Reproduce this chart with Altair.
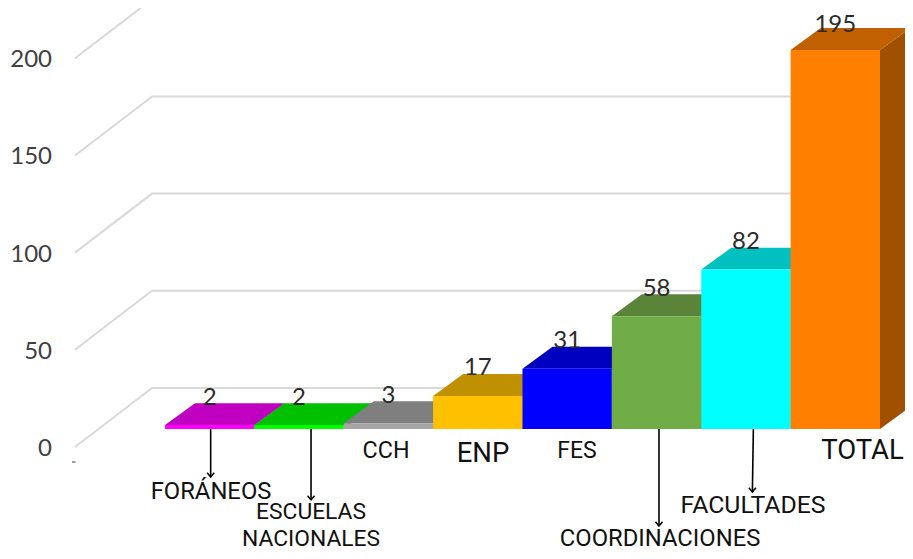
import altair as alt
import pandas as pd

categories = ["FORÁNEOS", "ESCUELAS NACIONALES", "CCH", "ENP", "FES", "COORDINACIONES", "FACULTADES", "TOTAL"]
values = [2, 2, 3, 17, 31, 58, 82, 195]
value_label_y = [16.2, 16.2, 17.2, 31.2, 45.2, 72.2, 96.2, 208.0]
front_colors = ["#ff00ff", "#00ff00", "#a6a6a6", "#ffc000", "#0000ff", "#70ad47", "#00ffff", "#ff8000"]
top_colors = ["#c000c0", "#00c000", "#7f7f7f", "#bf9000", "#0000c0", "#5a8438", "#00c0c0", "#c06000"]
side_colors = ["#a000a0", "#00a000", "#6a6a6a", "#a07800", "#0000a0", "#4b6e2f", "#00a0a0", "#a05000"]

y_ticks = [0, 50, 100, 150, 200]

label_texts = ["FORÁNEOS", "ESCUELAS", "NACIONALES", "CCH", "ENP", "FES", "COORDINACIONES", "FACULTADES", "TOTAL"]
label_x = [0.515, 1.634, 1.634, 2.473, 3.558, 4.610, 5.539, 6.579, 7.804]
label_y = [-32.5, -42.7, -56.5, -11.4, -12.9, -11.4, -56.5, -39.7, -11.4]
label_size = [23.8, 22.8, 22.8, 23.3, 27.5, 23, 23.8, 24.8, 27.5]

arrow_x = [0.511, 1.634, 5.527, 6.583]
arrow_x_end = [0.511, 1.634, 5.527, 6.572]
arrow_y_end = [-24.7, -36.5, -49.9, -32.4]

# 3-D projection, in axis units
DX, DY = 0.336, 11.3          # depth offset of a bar
WALL_L, WALL_B = -1.007, -0.145  # front and back corner of the side wall
FLOOR_F, FLOOR_B = -9.26, 21.1   # height of the wall corners relative to a tick
X_DOM = [-1.7566, 8.2797]
Y_DOM = [-62.77, 216.6]

x = alt.X("x:Q", scale=alt.Scale(domain=X_DOM, nice=False, zero=False), axis=None)
x2 = alt.X2("x2:Q")
y = alt.Y("y:Q", scale=alt.Scale(domain=Y_DOM, nice=False, zero=False), axis=None, stack=None)
y2 = alt.Y2("y2:Q")
colr = alt.Color("color:N", scale=None)

side_rows, top_rows, front_rows = [], [], []
for i, v in enumerate(values):
    a, b = i, i + 1
    for xx, hi, lo in [(b, v, 0), (b + DX, v + DY, DY)]:
        side_rows.append(dict(x=xx, y=hi, y2=lo, color=side_colors[i]))
    for xx, hi, lo in [(a, v, v), (a + DX, v + DY, v), (b, v + DY, v), (b + DX, v + DY, v + DY)]:
        top_rows.append(dict(x=xx, y=hi, y2=lo, color=top_colors[i]))
    front_rows.append(dict(x=a, x2=b, y=v, y2=0, color=front_colors[i]))

grid_rows = []
for t in y_ticks:
    for o, (xx, yy) in enumerate([(WALL_L, t + FLOOR_F), (WALL_B, t + FLOOR_B), (X_DOM[1], t + FLOOR_B)]):
        grid_rows.append(dict(x=xx, y=yy, tick=t, o=o))

grid = alt.Chart(pd.DataFrame(grid_rows)).mark_line(color="#d9d9d9", strokeWidth=2, clip=True).encode(
    x=x, y=y, detail="tick:N", order="o:Q")

sides = alt.Chart(pd.DataFrame(side_rows)).mark_area(opacity=1, interpolate="linear").encode(x=x, y=y, y2=y2, color=colr)
tops = alt.Chart(pd.DataFrame(top_rows)).mark_area(opacity=1, interpolate="linear").encode(x=x, y=y, y2=y2, color=colr)
fronts = alt.Chart(pd.DataFrame(front_rows)).mark_rect().encode(x=x, x2=x2, y=y, y2=y2, color=colr)

value_df = pd.DataFrame(dict(x=[i + 0.5 for i in range(len(values))], y=value_label_y, t=[str(v) for v in values]))
value_text = alt.Chart(value_df).mark_text(font="Lato", fontSize=24, color="#2b2b2b", baseline="middle", align="center").encode(
    x=x, y=y, text="t:N")

tick_df = pd.DataFrame(dict(x=[-1.264] * len(y_ticks), y=[t + FLOOR_F - 1 for t in y_ticks], t=[str(t) for t in y_ticks]))
tick_text = alt.Chart(tick_df).mark_text(font="Lato", fontSize=24, color="#404040", baseline="middle", align="right").encode(
    x=x, y=y, text="t:N")

dash = alt.Chart(pd.DataFrame(dict(x=[-1.04], x2=[-1.0], y=[-17.0]))).mark_rule(color="#404040", strokeWidth=1).encode(x=x, x2=x2, y=y)

label_df = pd.DataFrame(dict(x=label_x, y=label_y, t=label_texts, s=label_size))
labels = alt.Chart(label_df).mark_text(font="Roboto", color="#111111", baseline="middle", align="center").encode(
    x=x, y=y, text="t:N", size=alt.Size("s:Q", scale=None))

arrow_df = pd.DataFrame(dict(x=arrow_x, x2=arrow_x_end, y=[0] * 4, y2=arrow_y_end))
shafts = alt.Chart(arrow_df).mark_rule(color="#000000", strokeWidth=1.6).encode(x=x, x2=x2, y=y, y2=y2)
heads = alt.Chart(pd.DataFrame(dict(x=arrow_x_end, y=arrow_y_end))).mark_point(
    shape="M-1,-1.2L0,0L1,-1.2", filled=False, color="#000000", strokeWidth=1.5, size=49, opacity=1
).encode(x=x, y=y)

chart = alt.layer(grid, sides, tops, fronts, shafts, heads, dash, tick_text, value_text, labels).properties(
    width=897, height=543, padding=0, autosize=alt.AutoSizeParams(type="none"), background="#ffffff"
).configure_view(stroke=None)

chart.save("out.html", embed_options={"renderer": "svg", "actions": False})
